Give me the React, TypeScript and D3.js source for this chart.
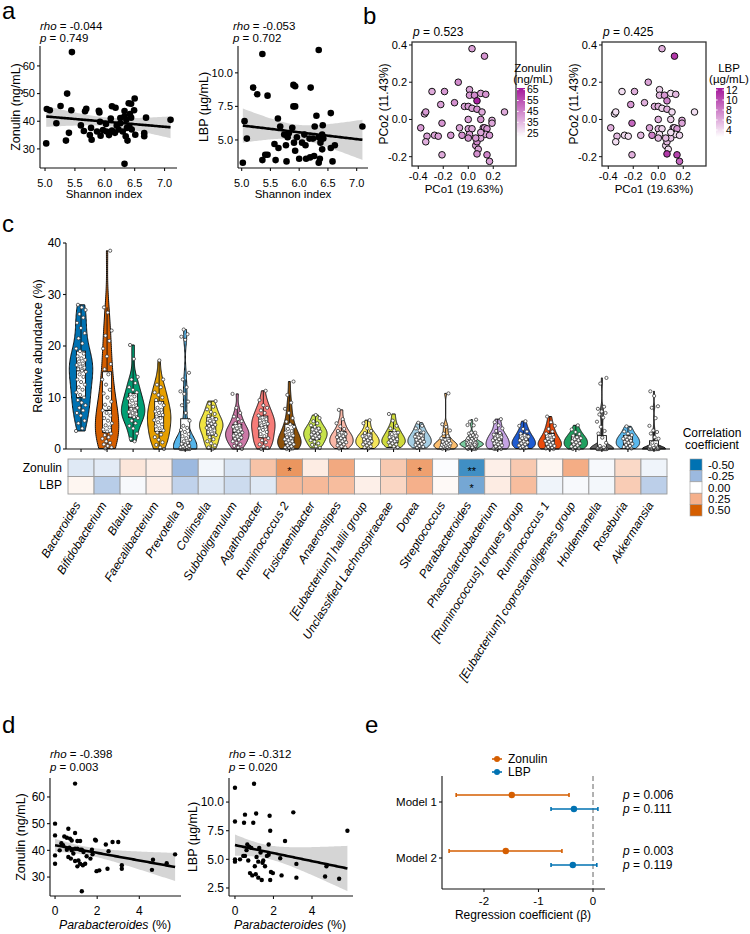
import React from 'react';
import * as d3 from 'd3';

const FONT = '"Liberation Sans", Arial, Helvetica, sans-serif';
const INK = '#111';
const ORANGE = '#D55E00';
const BLUE = '#0072B2';

// ---------- panel a: Shannon index vs markers ----------
const shannonZ = [5.45, 5.37, 5.02, 5.03, 5.08, 5.19, 5.26, 5.44, 5.4, 5.35, 5.6, 5.65, 5.67, 5.69, 5.75, 5.78, 5.77, 5.9, 5.91, 5.92, 5.93, 5.97, 6.02, 6.03, 6.1, 6.12, 6.17, 6.12, 6.18, 6.2, 6.23, 6.26, 6.26, 6.3, 6.33, 6.33, 6.36, 6.37, 6.4, 6.38, 6.41, 6.35, 6.33, 6.42, 6.44, 6.45, 6.49, 6.44, 6.5, 6.51, 6.66, 6.69, 6.66, 7.1, 6.07, 5.87];
const zonulinA = [65, 50, 32, 44.4, 44, 39.3, 45.5, 44, 35.8, 33, 38.5, 36.5, 43.6, 44.5, 35, 33.3, 37.6, 43.8, 43.2, 39.8, 34.8, 36.8, 39, 36.3, 41, 36.6, 35.8, 45.4, 44.9, 38.5, 37, 39.3, 41.2, 36.3, 41.8, 43.7, 40.5, 37.6, 46.5, 33, 38.2, 34.6, 24.6, 42.6, 41.3, 37, 44, 46.3, 48.2, 35.1, 34.6, 41.3, 35.7, 40.5, 35, 36.3];
const shannonL = [5.02, 5.05, 5.09, 5.2, 5.27, 5.36, 5.36, 5.41, 5.45, 5.45, 5.57, 5.59, 5.63, 5.64, 5.67, 5.74, 5.77, 5.78, 5.8, 5.82, 5.88, 5.9, 5.9, 5.93, 5.93, 5.91, 5.93, 5.96, 6.0, 6.05, 6.09, 6.11, 6.12, 6.18, 6.19, 6.2, 6.24, 6.26, 6.27, 6.3, 6.34, 6.34, 6.34, 6.36, 6.37, 6.4, 6.41, 6.42, 6.4, 6.55, 6.58, 6.55, 7.1, 6.62];
const lbpA = [3.3, 6.4, 5.1, 8.9, 8.4, 11.4, 3.5, 3.9, 3.9, 8.3, 4.7, 3.5, 6.6, 4.4, 6.0, 5.4, 4.6, 3.4, 5.2, 5.5, 5.9, 7.5, 9.1, 9.0, 7.5, 4.8, 4.2, 5.2, 3.6, 4.8, 5.4, 4.6, 3.6, 5.1, 3.7, 8.9, 5.1, 3.8, 6.0, 6.8, 11.7, 5.2, 3.3, 3.6, 4.8, 4.3, 6.1, 5.1, 5.4, 4.4, 3.4, 7.0, 6.0, 4.6];

// ---------- panel b: PCoA ----------
const pco1 = [0.03, 0.13, -0.08, -0.29, -0.19, -0.22, -0.11, 0.01, 0.01, 0.05, 0.07, 0.1, 0.14, -0.03, 0.0, 0.03, 0.07, 0.11, -0.35, -0.34, 0.0, 0.1, 0.19, 0.19, 0.29, -0.38, -0.33, -0.34, -0.27, -0.24, -0.21, -0.14, -0.07, -0.05, 0.0, 0.03, 0.01, 0.0, 0.06, 0.08, 0.07, 0.1, 0.12, 0.13, 0.15, 0.14, 0.17, 0.07, 0.15, 0.17, -0.21, 0.06, 0.1];
const pco2 = [0.38, 0.34, 0.2, 0.15, 0.15, 0.08, 0.09, 0.16, 0.13, 0.13, 0.1, 0.14, 0.135, 0.07, 0.07, 0.06, 0.055, 0.04, 0.03, 0.04, 0.0, 0.0, -0.005, -0.02, 0.04, -0.045, -0.09, -0.12, -0.085, -0.09, -0.02, -0.085, -0.045, -0.085, -0.05, -0.05, -0.08, -0.1, -0.14, -0.16, -0.12, -0.1, -0.045, -0.045, -0.05, -0.08, -0.085, -0.185, -0.19, -0.225, -0.19, -0.1, -0.07];
const zonulinB = [40, 42, 44, 38, 41, 40, 43, 39, 41, 44, 65, 40, 42, 39, 41, 40, 43, 38, 37, 41, 40, 42, 36, 39, 38, 41, 40, 37, 39, 40, 42, 41, 39, 43, 40, 38, 41, 42, 40, 39, 44, 38, 37, 40, 42, 39, 41, 43, 45, 40, 38, 41, 39];
const lbpB = [6, 11, 6.5, 4, 6, 7, 6, 4.5, 5.5, 7, 8, 4, 5.5, 6, 6, 4.5, 6, 4.2, 4, 4, 6, 4.5, 6, 6.5, 4, 6, 5.5, 4, 4.2, 4, 9, 5.5, 6.5, 8, 5.5, 4.5, 4, 5.5, 4.5, 4, 5.5, 5, 6, 4.5, 7, 4, 4.3, 11, 10.5, 9, 6, 5.5, 4];

// ---------- panel d: Parabacteroides vs markers ----------
const paraZ = [0, 0, 0, 0, 0.63, 0.95, 0.95, 0.44, 0.56, 0.71, 0.79, 1.06, 1.19, 0.68, 0.79, 0.95, 1.06, 1.19, 1.27, 1.35, 0.56, 0.63, 0.75, 0.95, 1.11, 1.06, 1.19, 1.32, 1.43, 1.27, 1.75, 1.78, 1.68, 1.9, 1.94, 1.97, 2.1, 2.41, 2.54, 2.49, 2.73, 3.0, 3.17, 3.17, 4.65, 4.6, 5.3, 5.7, 0.3, 0.38, 0.87, 1.5, 0.22];
const zonulinD = [50, 45.6, 38.1, 35, 48.1, 65, 46.5, 45.2, 44.7, 44.4, 43.7, 43.5, 43.5, 41, 40, 40.6, 40.6, 40.2, 40.2, 39.4, 40.2, 37.5, 36.9, 36, 36.2, 34, 35, 34.4, 35, 24.7, 40.2, 38.5, 36.9, 44, 43.7, 32.2, 32.5, 42.2, 39.7, 33.1, 43.1, 43.1, 34.4, 33.1, 36.5, 32.7, 35.2, 38.5, 42.7, 41.9, 38.8, 37.8, 40];
const paraL = [0, 0, 0, 0, 0.52, 0.47, 0.74, 0.64, 0.52, 0.6, 0.43, 0.69, 0.78, 0.9, 1.03, 1.12, 1.21, 1.08, 1.21, 1.39, 0.99, 1.1, 0.95, 1.26, 1.47, 1.56, 1.43, 1.33, 1.8, 1.83, 1.75, 1.75, 1.66, 1.87, 1.97, 1.83, 2.35, 2.6, 2.42, 3.03, 3.19, 3.19, 4.68, 4.75, 5.41, 5.84, 0.26, 0.85];
const lbpD = [11.25, 8.3, 5.0, 4.8, 8.9, 8.2, 6.1, 6.3, 5.3, 5.8, 5.3, 4.9, 3.8, 3.6, 4.4, 5.2, 4.8, 3.7, 3.4, 3.2, 11.6, 9.0, 8.2, 6.0, 4.9, 4.4, 4.7, 5.6, 8.8, 7.5, 6.3, 5.4, 5.3, 3.9, 3.8, 3.2, 5.1, 6.6, 3.6, 9.1, 4.6, 3.4, 3.5, 4.4, 3.3, 7.5, 5.0, 6.0];

// ---------- panel c: genus abundance (%) ----------
const genera = ['Bacteroides', 'Bifidobacterium', 'Blautia', 'Faecalibacterium', 'Prevotella 9', 'Collinsella', 'Subdoligranulum', 'Agathobacter', 'Ruminococcus 2', 'Fusicatenibacter', 'Anaerostipes', '[Eubacterium] hallii group', 'Unclassified Lachnospiraceae', 'Dorea', 'Streptococcus', 'Parabacteroides', 'Phascolarctobacterium', '[Ruminococcus] torques group', 'Ruminococcus 1', '[Eubacterium] coprostanoligenes group', 'Holdemanella', 'Roseburia', 'Akkermansia'];
const bacteroides = [3.5, 4, 5, 5.5, 6.5, 7, 7.5, 8, 8.5, 9, 9.5, 10, 10.5, 11, 11.5, 12, 12.5, 13, 13.5, 14, 14.5, 15, 15.2, 15.5, 15.8, 16, 16.3, 16.6, 17, 17.3, 17.6, 18, 18.5, 19, 19.5, 20.5, 21.5, 22.5, 23.5, 24.5, 25.5, 26.2, 27, 27.5, 28];
const bifidobacterium = [0.1, 0.3, 0.6, 0.9, 1.2, 1.5, 2, 2.3, 2.7, 3, 3.4, 3.8, 4.2, 4.6, 5, 5.5, 6, 6.5, 7, 7.5, 8, 8.6, 9.2, 10, 10.8, 11.5, 12.5, 13.5, 14.5, 15.5, 16.5, 18, 19.5, 21, 22, 23, 26.5, 27.5, 38.5];
const blautia = [1.5, 2, 3, 4, 4.5, 5, 5.5, 6, 6.2, 6.5, 6.8, 7, 7.2, 7.5, 7.8, 8, 8.3, 8.6, 9, 9.4, 9.8, 10.2, 10.6, 11, 11.5, 12, 12.8, 13.5, 14, 17.5, 20.2];
const faecalibacterium = [0, 0.3, 0.8, 1.3, 1.8, 2.3, 2.8, 3.2, 3.6, 4, 4.4, 4.8, 5.2, 5.6, 6, 6.3, 6.6, 7, 7.3, 7.6, 8, 8.5, 9, 9.5, 10, 10.5, 11, 12, 12.5, 13.5, 17.2];
const prevotella9 = [0, 0, 0, 0, 0, 0, 0, 0, 0, 0, 0, 0, 0, 0, 0.02, 0.05, 0.1, 0.15, 0.2, 0.3, 0.4, 0.5, 0.6, 0.8, 1, 1.2, 1.5, 1.8, 2.1, 2.5, 2.9, 3.3, 3.7, 4.1, 4.5, 5.5, 7, 8.5, 9.2, 10.7, 11.2, 12, 13.5, 14.8, 21.2, 21.8, 22.3, 23.2];
const collinsella = [0, 0.3, 0.7, 1.1, 1.5, 1.9, 2.3, 2.7, 3, 3.3, 3.6, 3.9, 4.1, 4.3, 4.5, 4.7, 4.9, 5.1, 5.3, 5.5, 5.8, 6.1, 6.4, 6.8, 7.2, 7.7, 8.2, 8.8, 9.3];
const subdoligranulum = [0, 0.3, 0.6, 0.9, 1.2, 1.5, 1.8, 2, 2.2, 2.4, 2.6, 2.8, 3, 3.2, 3.4, 3.6, 3.8, 4, 4.3, 4.6, 5, 5.4, 5.8, 6.3, 7, 8, 10.7];
const agathobacter = [0, 0.2, 0.5, 0.9, 1.3, 1.7, 2.1, 2.5, 2.9, 3.3, 3.7, 4, 4.3, 4.6, 4.9, 5.2, 5.5, 5.8, 6.1, 6.5, 7, 7.5, 8, 8.5, 9.5, 11.3];
const ruminococcus2 = [0, 0, 0.1, 0.2, 0.3, 0.5, 0.7, 0.9, 1.1, 1.3, 1.5, 1.7, 1.9, 2.1, 2.3, 2.6, 2.9, 3.2, 3.5, 3.9, 4.3, 4.8, 5.3, 6, 7, 7.8, 9, 10.5, 13.1];
const fusicatenibacter = [0.2, 0.5, 0.8, 1.1, 1.4, 1.7, 2, 2.2, 2.4, 2.6, 2.8, 3, 3.2, 3.4, 3.6, 3.8, 4, 4.3, 4.6, 5, 5.4, 6, 6.6];
const anaerostipes = [0.1, 0.3, 0.5, 0.7, 0.9, 1.1, 1.3, 1.5, 1.7, 1.9, 2.1, 2.3, 2.5, 2.7, 2.9, 3.2, 3.5, 3.9, 4.4, 5, 5.8, 7.6];
const hallii = [0.1, 0.3, 0.5, 0.7, 0.9, 1.1, 1.3, 1.5, 1.7, 1.9, 2.1, 2.3, 2.5, 2.8, 3.1, 3.5, 4, 5, 5.6];
const lachnospiraceae = [0.3, 0.5, 0.7, 0.9, 1.1, 1.3, 1.5, 1.7, 1.9, 2.1, 2.3, 2.6, 2.9, 3.2, 3.6, 4, 4.5, 5.5, 6.8];
const dorea = [0.2, 0.4, 0.6, 0.8, 1, 1.2, 1.4, 1.6, 1.8, 2, 2.2, 2.4, 2.6, 2.9, 3.2, 3.6, 4, 4.5, 5.1];
const streptococcus = [0, 0.05, 0.1, 0.2, 0.3, 0.4, 0.5, 0.6, 0.7, 0.8, 0.9, 1, 1.1, 1.2, 1.4, 1.6, 1.8, 2.1, 2.5, 3, 3.6, 4.3, 4.8, 10.8];
const phascolarctobacterium = [0, 0, 0, 0.1, 0.3, 0.5, 0.7, 0.9, 1.1, 1.3, 1.5, 1.7, 1.9, 2.1, 2.3, 2.5, 2.8, 3.1, 3.5, 4, 4.6, 5.2, 5.8];
const torques = [0.1, 0.2, 0.3, 0.5, 0.7, 0.9, 1.1, 1.3, 1.5, 1.7, 1.9, 2.1, 2.4, 2.7, 3, 3.4, 3.9, 4.5, 5.4];
const ruminococcus1 = [0, 0, 0.1, 0.2, 0.4, 0.6, 0.8, 1, 1.2, 1.4, 1.6, 1.8, 2, 2.3, 2.6, 3, 3.4, 3.9, 4.5, 5.2, 6.3];
const coprostanoligenes = [0, 0.1, 0.3, 0.5, 0.7, 0.9, 1.1, 1.3, 1.5, 1.7, 1.9, 2.1, 2.3, 2.6, 2.9, 3.3, 3.8, 4.6];
const holdemanella = [0, 0, 0, 0, 0, 0, 0, 0, 0, 0, 0, 0, 0, 0, 0, 0, 0, 0, 0, 0, 0, 0, 0, 0, 0, 0, 0, 0, 0, 0, 0.1, 0.3, 0.6, 1.2, 2.2, 3, 3.5, 4.3, 5.3, 6.1, 6.7, 7, 7.3, 7.8, 8.2, 12.7, 13.8];
const roseburia = [0.1, 0.2, 0.4, 0.6, 0.8, 1, 1.2, 1.4, 1.6, 1.8, 2, 2.2, 2.4, 2.7, 3, 3.4, 3.9, 4.4];
const akkermansia = [0, 0, 0, 0, 0, 0, 0, 0, 0, 0, 0, 0, 0, 0, 0, 0, 0, 0, 0, 0, 0, 0, 0, 0, 0, 0, 0.05, 0.1, 0.2, 0.5, 0.8, 1.2, 2, 2.3, 3, 3.3, 3.6, 4.5, 6, 8, 8.3, 10.3, 11.2];
const genusValues = [bacteroides, bifidobacterium, blautia, faecalibacterium, prevotella9, collinsella, subdoligranulum, agathobacter, ruminococcus2, fusicatenibacter, anaerostipes, hallii, lachnospiraceae, dorea, streptococcus, paraZ, phascolarctobacterium, torques, ruminococcus1, coprostanoligenes, holdemanella, roseburia, akkermansia];
const violinColors = ['#0072B2', '#D55E00', '#009E73', '#E69F00', '#56B4E9', '#F0E442', '#CC79A7', '#F67C78', '#8C510A', '#C6E24B', '#F9B8A8', '#F5E65A', '#CFDA3C', '#A6CEE3', '#FDBF6F', '#7ACCA0', '#C5A3E3', '#1F5BD1', '#EA4B0C', '#20A060', '#666666', '#5BB8EC', '#444444'];
const corZonulin = [-0.08, -0.07, 0.08, 0.05, -0.25, -0.03, -0.1, 0.19, 0.33, 0.06, 0.27, 0.0, 0.17, 0.3, -0.01, -0.398, 0.05, 0.17, 0.03, 0.26, -0.02, 0.12, -0.04];
const corLBP = [0.03, -0.18, -0.02, 0.05, -0.16, -0.08, -0.13, -0.08, 0.22, 0.22, 0.21, 0.05, 0.13, 0.25, 0.02, -0.312, 0.06, 0.21, -0.04, -0.02, -0.03, 0.16, -0.17];
const sigZonulin = ['', '', '', '', '', '', '', '', '*', '', '', '', '', '*', '', '**', '', '', '', '', '', '', ''];
const sigLBP = ['', '', '', '', '', '', '', '', '', '', '', '', '', '', '', '*', '', '', '', '', '', '', ''];
const corBreaks = [-0.5, -0.25, 0, 0.25, 0.5];
const corColors = ['#0072B2', '#9CB9DF', '#FFFFFF', '#F5B08B', '#D55E00'];

// ---------- panel e: regression ----------
const models = ['Model 1', 'Model 2'];
const betaZonulin = [-1.49, -1.6];
const loZonulin = [-2.51, -2.64];
const hiZonulin = [-0.44, -0.57];
const betaLBP = [-0.35, -0.37];
const loLBP = [-0.77, -0.77];
const hiLBP = [0.09, 0.07];
const pZonulin = ['0.006', '0.003'];
const pLBP = ['0.111', '0.119'];

// ---------- helpers ----------
function fitLine(xs: number[], ys: number[]) {
  const n = xs.length;
  const mx = d3.mean(xs)!, my = d3.mean(ys)!;
  const sxx = d3.sum(xs, x => (x - mx) ** 2);
  const sxy = d3.sum(xs.map((x, i) => (x - mx) * (ys[i] - my)));
  const b = sxy / sxx, a = my - b * mx;
  const s = Math.sqrt(d3.sum(xs.map((x, i) => (ys[i] - a - b * x) ** 2)) / (n - 2));
  const [lo, hi] = d3.extent(xs) as [number, number];
  return d3.range(81).map(i => {
    const x = lo + ((hi - lo) * i) / 80;
    const fit = a + b * x;
    const se = s * Math.sqrt(1 / n + (x - mx) ** 2 / sxx);
    return { x, fit, lo: fit - 2.005 * se, hi: fit + 2.005 * se };
  });
}

function density(vals: number[]) {
  const s = [...vals].sort(d3.ascending);
  const sd = d3.deviation(s) || 1;
  const iqr = d3.quantile(s, 0.75)! - d3.quantile(s, 0.25)!;
  let spread = Math.min(sd, iqr / 1.34);
  if (!(spread > 0)) spread = sd;
  const bw = 0.9 * spread * Math.pow(s.length, -0.2);
  const [mn, mx] = d3.extent(s) as [number, number];
  return d3.range(101).map(i => {
    const g = mn + ((mx - mn) * i) / 100;
    const d = d3.mean(s, v => Math.exp(-0.5 * ((g - v) / bw) ** 2))!;
    return [g, d] as [number, number];
  });
}

const jitter = (i: number, w: number) => ((((i * 0.6180339887) % 1) - 0.5) * 2 * w);

const StatText = ({ x, y, label, value, size }: any) => (
  <text x={x} y={y} fontSize={size}>
    <tspan fontStyle="italic">{label}</tspan> = {value}
  </text>
);

function Scatter(p: any) {
  const x = d3.scaleLinear().domain(p.xDomain).range([p.left, p.right]);
  const y = d3.scaleLinear().domain(p.yDomain).range([p.bottom, p.top]);
  const fit = fitLine(p.xs, p.ys);
  const band = d3.area<any>().x(d => x(d.x)).y0(d => y(d.lo)).y1(d => y(d.hi))(fit)!;
  const line = d3.line<any>().x(d => x(d.x)).y(d => y(d.fit))(fit)!;
  const fs = p.fs;
  return (
    <g>
      <path d={band} fill="#d5d5d5" />
      {p.xs.map((v: number, i: number) => (
        <circle key={i} cx={x(v)} cy={y(p.ys[i])} r={p.r} fill="#000" />
      ))}
      <path d={line} fill="none" stroke="#000" strokeWidth={2.6} />
      <line x1={p.left} x2={p.left} y1={p.top} y2={p.bottom} stroke={INK} strokeWidth={1.1} />
      <line x1={p.left} x2={p.right} y1={p.bottom} y2={p.bottom} stroke={INK} strokeWidth={1.1} />
      {p.yTicks.map((t: number) => (
        <g key={'y' + t}>
          <line x1={p.left - 3} x2={p.left} y1={y(t)} y2={y(t)} stroke={INK} strokeWidth={1.1} />
          <text x={p.left - 5} y={y(t)} dy="0.35em" textAnchor="end" fontSize={fs}>{p.yFmt(t)}</text>
        </g>
      ))}
      {p.xTicks.map((t: number) => (
        <g key={'x' + t}>
          <line x1={x(t)} x2={x(t)} y1={p.bottom} y2={p.bottom + 3} stroke={INK} strokeWidth={1.1} />
          <text x={x(t)} y={p.tickLabelY} textAnchor="middle" fontSize={fs}>{p.xFmt(t)}</text>
        </g>
      ))}
      <text x={p.xTitleX} y={p.xTitleY} textAnchor="middle" fontSize={p.xts}>{p.xTitle}</text>
      <text transform={`translate(${p.yTitleX},${(p.top + p.bottom) / 2}) rotate(-90)`} textAnchor="middle" fontSize={p.yts}>{p.yTitle}</text>
      <StatText x={p.statX} y={p.statY[0]} label="rho" value={p.rho} size={11.5} />
      <StatText x={p.statX} y={p.statY[1]} label="p" value={p.p} size={11.5} />
    </g>
  );
}

function Pcoa(p: any) {
  const x = d3.scaleLinear().domain([-0.45, 0.382]).range([p.ox, p.ox + 104]);
  const y = d3.scaleLinear().domain([-0.25, 0.416]).range([166, 42]);
  const col = d3.scaleLinear<string>().domain(p.cDomain).range(['#FFFFFF', '#A5179B']);
  const barY = d3.scaleLinear().domain(p.cDomain).range([137, 88]);
  const stops = d3.range(11).map(i => i / 10);
  return (
    <g>
      <defs>
        <linearGradient id={p.gid} x1="0" y1="1" x2="0" y2="0">
          {stops.map(s => (
            <stop key={s} offset={s} stopColor={col(p.cDomain[0] + s * (p.cDomain[1] - p.cDomain[0]))} />
          ))}
        </linearGradient>
      </defs>
      {pco1.map((v, i) => (
        <circle key={i} cx={x(v)} cy={y(pco2[i])} r={3.3} fill={col(p.vals[i])} stroke="#111" strokeWidth={1} />
      ))}
      <rect x={p.ox} y={42} width={104} height={124} fill="none" stroke="#333" strokeWidth={1.3} />
      {[-0.4, -0.2, 0, 0.2].map(t => (
        <g key={'x' + t}>
          <line x1={x(t)} x2={x(t)} y1={166} y2={169} stroke={INK} />
          <text x={x(t)} y={179.5} textAnchor="middle" fontSize={11}>{t.toFixed(1)}</text>
        </g>
      ))}
      {[-0.2, 0, 0.2, 0.4].map(t => (
        <g key={'y' + t}>
          <line x1={p.ox - 3} x2={p.ox} y1={y(t)} y2={y(t)} stroke={INK} />
          <text x={p.ox - 5} y={y(t)} dy="0.35em" textAnchor="end" fontSize={11}>{t.toFixed(1)}</text>
        </g>
      ))}
      <text x={p.ox + 52} y={192.5} textAnchor="middle" fontSize={11.5}>PCo1 (19.63%)</text>
      <text transform={`translate(${p.ox - 24},104) rotate(-90)`} textAnchor="middle" fontSize={12}>PCo2 (11.43%)</text>
      <text x={p.ox + 1} y={36} fontSize={12}><tspan fontStyle="italic">p</tspan> = {p.p}</text>
      <text x={p.legendX} y={72} textAnchor="middle" fontSize={11.5}>{p.title}</text>
      <text x={p.legendX} y={83} textAnchor="middle" fontSize={11.5}>{p.unit}</text>
      <rect x={p.barX} y={88} width={8} height={49} fill={`url(#${p.gid})`} />
      {p.cTicks.map((t: number) => (
        <g key={'c' + t}>
          <line x1={p.barX} x2={p.barX + 1.6} y1={barY(t)} y2={barY(t)} stroke="#fff" />
          <line x1={p.barX + 6.4} x2={p.barX + 8} y1={barY(t)} y2={barY(t)} stroke="#fff" />
          <text x={p.barX + 10} y={barY(t)} dy="0.35em" fontSize={10.5}>{t}</text>
        </g>
      ))}
    </g>
  );
}

function PanelC() {
  const xb = d3.scaleBand<string>().domain(genera).range([68, 667]);
  const bw = xb.bandwidth();
  const y = d3.scaleLinear().domain([0, 40]).range([449, 243]);
  const heat = d3.scaleLinear<string>().domain(corBreaks).range(corColors).clamp(true);
  const rowTop = 459, rowH = 17.5;
  return (
    <g>
      {genusValues.map((vals, i) => {
        const cx = xb(genera[i])! + bw / 2;
        const dens = density(vals);
        const w = d3.scaleLinear().domain([0, d3.max(dens, d => d[1])!]).range([0, bw * 0.45]);
        const path = d3.area<[number, number]>().y(d => y(d[0])).x0(d => cx - w(d[1])).x1(d => cx + w(d[1]))(dens)!;
        const s = [...vals].sort(d3.ascending);
        const q1 = d3.quantile(s, 0.25)!, med = d3.quantile(s, 0.5)!, q3 = d3.quantile(s, 0.75)!;
        const iqr = q3 - q1;
        const wlo = d3.min(s.filter(v => v >= q1 - 1.5 * iqr))!;
        const whi = d3.max(s.filter(v => v <= q3 + 1.5 * iqr))!;
        return (
          <g key={genera[i]}>
            <path d={path} fill={violinColors[i]} stroke="#111" strokeWidth={1} />
            <line x1={cx} x2={cx} y1={y(whi)} y2={y(q3)} stroke="#111" strokeWidth={0.9} />
            <line x1={cx} x2={cx} y1={y(q1)} y2={y(wlo)} stroke="#111" strokeWidth={0.9} />
            <rect x={cx - 4.5} y={y(q3)} width={9} height={Math.max(0.5, y(q1) - y(q3))} fill="#fff" stroke="#111" strokeWidth={0.9} />
            <line x1={cx - 4.5} x2={cx + 4.5} y1={y(med)} y2={y(med)} stroke="#111" strokeWidth={1.2} />
            {vals.map((v, j) => (
              <circle key={j} cx={cx + jitter(j + i * 7, 5)} cy={y(v)} r={1.6} fill="#fff" stroke="#333" strokeWidth={0.75} />
            ))}
          </g>
        );
      })}
      <line x1={66} x2={66} y1={243} y2={449} stroke={INK} strokeWidth={1.1} />
      <line x1={66} x2={670} y1={449} y2={449} stroke={INK} strokeWidth={1.1} />
      {[0, 10, 20, 30, 40].map(t => (
        <g key={t}>
          <line x1={63} x2={66} y1={y(t)} y2={y(t)} stroke={INK} strokeWidth={1.1} />
          <text x={61} y={y(t)} dy="0.35em" textAnchor="end" fontSize={12}>{t}</text>
        </g>
      ))}
      {genera.map(g => (
        <line key={g} x1={xb(g)! + bw / 2} x2={xb(g)! + bw / 2} y1={449} y2={452} stroke={INK} strokeWidth={1.1} />
      ))}
      <text transform="translate(42,346) rotate(-90)" textAnchor="middle" fontSize={12.5}>Relative abundance (%)</text>
      {genera.map((g, i) => (
        <g key={'h' + g}>
          <rect x={xb(g)!} y={rowTop} width={bw} height={rowH} fill={heat(corZonulin[i])} stroke="#9a9a9a" strokeWidth={0.9} />
          <rect x={xb(g)!} y={rowTop + rowH} width={bw} height={rowH} fill={heat(corLBP[i])} stroke="#9a9a9a" strokeWidth={0.9} />
          <text x={xb(g)! + bw / 2} y={rowTop + rowH / 2 + 7} textAnchor="middle" fontSize={11}>{sigZonulin[i]}</text>
          <text x={xb(g)! + bw / 2} y={rowTop + rowH * 1.5 + 7} textAnchor="middle" fontSize={11}>{sigLBP[i]}</text>
          <text transform={`translate(${xb(g)! + bw / 2},505) rotate(-58)`} textAnchor="end" fontSize={12} fontStyle="italic">{g}</text>
        </g>
      ))}
      <text x={62} y={rowTop + rowH / 2} dy="0.35em" textAnchor="end" fontSize={12}>Zonulin</text>
      <text x={62} y={rowTop + rowH * 1.5} dy="0.35em" textAnchor="end" fontSize={12}>LBP</text>
      <text x={712} y={437} textAnchor="middle" fontSize={12}>Correlation</text>
      <text x={712} y={449} textAnchor="middle" fontSize={12}>coefficient</text>
      {corBreaks.map((b, i) => (
        <g key={b}>
          <rect x={690} y={459 + i * 11.4} width={12} height={11.4} fill={heat(b)} stroke="#9a9a9a" strokeWidth={0.6} />
          <text x={708} y={459 + i * 11.4 + 5.7} dy="0.35em" fontSize={11.5}>{b.toFixed(2)}</text>
        </g>
      ))}
    </g>
  );
}

function PanelE() {
  const x = d3.scaleLinear().domain([-2.77, 0.22]).range([442, 605]);
  const y = d3.scalePoint<string>().domain(models).range([802, 858]);
  const series = [
    { name: 'Zonulin', color: ORANGE, beta: betaZonulin, lo: loZonulin, hi: hiZonulin, p: pZonulin, dy: -7 },
    { name: 'LBP', color: BLUE, beta: betaLBP, lo: loLBP, hi: hiLBP, p: pLBP, dy: 7 },
  ];
  return (
    <g>
      <line x1={x(0)} x2={x(0)} y1={776} y2={889} stroke="#888" strokeWidth={1.3} strokeDasharray="5,3" />
      {series.map(s => models.map((m, i) => {
        const yy = y(m)! + s.dy;
        return (
          <g key={s.name + m}>
            <line x1={x(s.lo[i])} x2={x(s.hi[i])} y1={yy} y2={yy} stroke={s.color} strokeWidth={1.6} />
            <line x1={x(s.lo[i])} x2={x(s.lo[i])} y1={yy - 2} y2={yy + 2} stroke={s.color} strokeWidth={1.6} />
            <line x1={x(s.hi[i])} x2={x(s.hi[i])} y1={yy - 2} y2={yy + 2} stroke={s.color} strokeWidth={1.6} />
            <circle cx={x(s.beta[i])} cy={yy} r={3.2} fill={s.color} />
            <text x={623} y={yy} dy="0.35em" fontSize={12}><tspan fontStyle="italic">p</tspan> = {s.p[i]}</text>
          </g>
        );
      }))}
      <line x1={442} x2={442} y1={776} y2={889} stroke={INK} strokeWidth={1.1} />
      <line x1={442} x2={605} y1={889} y2={889} stroke={INK} strokeWidth={1.1} />
      {models.map(m => (
        <g key={m}>
          <line x1={439} x2={442} y1={y(m)!} y2={y(m)!} stroke={INK} strokeWidth={1.1} />
          <text x={437} y={y(m)!} dy="0.35em" textAnchor="end" fontSize={11.5}>{m}</text>
        </g>
      ))}
      {[-2, -1, 0].map(t => (
        <g key={t}>
          <line x1={x(t)} x2={x(t)} y1={889} y2={892} stroke={INK} strokeWidth={1.1} />
          <text x={x(t)} y={905} textAnchor="middle" fontSize={11.5}>{t}</text>
        </g>
      ))}
      <text x={523} y={919} textAnchor="middle" fontSize={12}>Regression coefficient (β)</text>
      {series.map((s, i) => (
        <g key={'lg' + s.name}>
          <line x1={492} x2={502} y1={759 + i * 13} y2={759 + i * 13} stroke={s.color} strokeWidth={1.6} />
          <circle cx={497} cy={759 + i * 13} r={3} fill={s.color} />
          <text x={508} y={759 + i * 13} dy="0.35em" fontSize={12}>{s.name}</text>
        </g>
      ))}
    </g>
  );
}

const f0 = (v: number) => String(v);
const f1 = (v: number) => v.toFixed(1);
const paraTitle = (
  <>
    <tspan fontStyle="italic">Parabacteroides</tspan> (%)
  </>
);

export default function App() {
  return (
    <svg width={750} height={934} viewBox="0 0 750 934" style={{ position: 'absolute', left: 0, top: 0, fontFamily: FONT }} fill="#000">
      <rect width={750} height={934} fill="#fff" />
      <text x={2} y={19} fontSize={24}>a</text>
      <text x={363} y={24} fontSize={24}>b</text>
      <text x={2} y={232} fontSize={24}>c</text>
      <text x={2} y={733} fontSize={24}>d</text>
      <text x={365} y={733} fontSize={24}>e</text>

      <Scatter xs={shannonZ} ys={zonulinA} left={40} right={177} top={46} bottom={168}
        xDomain={[4.916, 7.208]} yDomain={[23.1, 67.2]} xTicks={[5, 5.5, 6, 6.5, 7]} yTicks={[30, 40, 50, 60]}
        xFmt={f1} yFmt={f0} r={3.3} fs={11} xts={11.5} yts={12.5} tickLabelY={187} xTitle="Shannon index" xTitleX={104} xTitleY={198}
        yTitle="Zonulin (ng/mL)" yTitleX={20} statX={40} statY={[30, 42]} rho="-0.044" p="0.749" />
      <Scatter xs={shannonL} ys={lbpA} left={238} right={368} top={46} bottom={168}
        xDomain={[4.936, 7.197]} yDomain={[2.91, 12.0]} xTicks={[5, 5.5, 6, 6.5, 7]} yTicks={[5, 7.5, 10]}
        xFmt={f1} yFmt={f1} r={3.3} fs={11} xts={11.5} yts={12.5} tickLabelY={187} xTitle="Shannon index" xTitleX={293} xTitleY={198}
        yTitle="LBP (µg/mL)" yTitleX={208} statX={233} statY={[30, 42]} rho="-0.053" p="0.702" />

      <Pcoa ox={412} vals={zonulinB} cDomain={[21.5, 66.5]} cTicks={[25, 35, 45, 55, 65]} gid="gz"
        title="Zonulin" unit="(ng/mL)" legendX={533} barX={517} p="0.523" />
      <Pcoa ox={602} vals={lbpB} cDomain={[2.6, 12.4]} cTicks={[4, 6, 8, 10, 12]} gid="gl"
        title="LBP" unit="(µg/mL)" legendX={729} barX={716} p="0.425" />

      <PanelC />

      <Scatter xs={paraZ} ys={zonulinD} left={50} right={181} top={778} bottom={896}
        xDomain={[-0.24, 5.98]} yDomain={[22.9, 67.1]} xTicks={[0, 2, 4]} yTicks={[30, 40, 50, 60]}
        xFmt={f0} yFmt={f0} r={2.2} fs={12} xts={12.3} yts={12.5} tickLabelY={915} xTitle={paraTitle} xTitleX={115} xTitleY={929}
        yTitle="Zonulin (ng/mL)" yTitleX={25} statX={50} statY={[758, 771]} rho="-0.398" p="0.003" />
      <Scatter xs={paraL} ys={lbpD} left={229} right={353} top={778} bottom={896}
        xDomain={[-0.31, 6.13]} yDomain={[1.8, 12.1]} xTicks={[0, 2, 4]} yTicks={[2.5, 5, 7.5, 10]}
        xFmt={f0} yFmt={f1} r={2.2} fs={12} xts={12.3} yts={12.5} tickLabelY={915} xTitle={paraTitle} xTitleX={290} xTitleY={929}
        yTitle="LBP (µg/mL)" yTitleX={197} statX={229} statY={[758, 771]} rho="-0.312" p="0.020" />

      <PanelE />
    </svg>
  );
}
